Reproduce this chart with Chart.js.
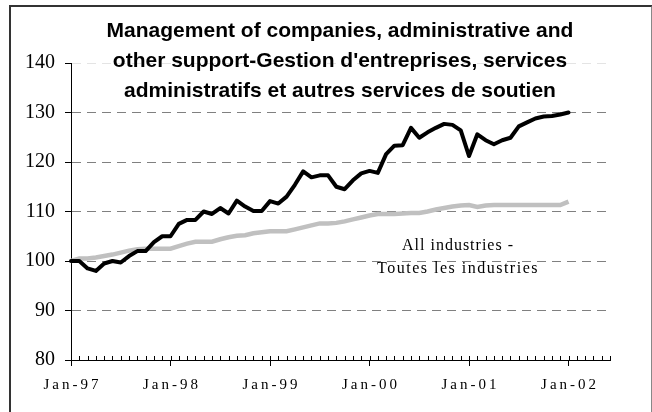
<!DOCTYPE html>
<html>
<head>
<meta charset="utf-8">
<script src="https://cdn.jsdelivr.net/npm/chart.js@4.4.1/dist/chart.umd.min.js"></script>
<style>
  body { margin: 0; background: #fff; }
  #wrap { position: relative; width: 652px; height: 412px; overflow: hidden; }
  #frame { position: absolute; left: 9px; top: 5px; width: 640px; height: 420px;
           border-top: 2px solid #333; border-left: 2px solid #333; border-right: 2px solid #888; }
  canvas { position: absolute; left: 0; top: 0; }
  #title { position: absolute; left: 40px; width: 600px; top: 15px; text-align: center;
           font-family: "Liberation Sans", Arial, sans-serif; font-weight: bold; font-size: 21px;
           line-height: 30px; color: #000; white-space: nowrap; }
  #note { position: absolute; left: 358px; width: 200px; top: 233px; text-align: center;
          font-family: "Liberation Serif", "Times New Roman", serif; font-size: 16px;
          line-height: 23px; letter-spacing: 1px; color: #000; white-space: nowrap; }
  #note span { letter-spacing: 1.5px; }
</style>
</head>
<body>
<div id="wrap">
  <div id="frame"></div>
  <canvas id="chart" width="652" height="412"></canvas>
  <div id="title">Management of companies, administrative and<br>other support-Gestion d'entreprises, services<br>administratifs et autres services de soutien</div>
  <div id="note">All industries -<br><span>Toutes les industries</span></div>
</div>
<script>
var monthNames = ["Jan", "Feb", "Mar", "Apr", "May", "Jun", "Jul", "Aug", "Sep", "Oct", "Nov", "Dec"];
var years = ["97", "98", "99", "00", "01", "02"];
var monthCount = 66; // axis runs Jan-97 .. Jun-02

// Management of companies, administrative and other support (Jan-97 = 100)
var management = [
    100, 100, 98.5, 98, 99.5, 100, 99.7, 101, 102, 102, 103.8, 105,
    105, 107.5, 108.3, 108.3, 110, 109.5, 110.7, 109.6, 112.2, 111, 110.1, 110.1,
    112.1, 111.6, 113, 115.4, 118.1, 116.9, 117.3, 117.3, 115, 114.5, 116.3, 117.7,
    118.2, 117.8, 121.6, 123.3, 123.4, 126.9, 124.9, 126, 126.9, 127.7, 127.5, 126.4,
    121.2, 125.6, 124.4, 123.6, 124.4, 124.9, 127.2, 128, 128.8, 129.2, 129.3, 129.6,
    130
];

// All industries
var allIndustries = [
    100, 100.5, 100.5, 100.7, 101, 101.3, 101.7, 102.1, 102.4, 102.5, 102.5, 102.5,
    102.5, 103, 103.5, 103.9, 103.9, 103.9, 104.4, 104.8, 105.1, 105.2, 105.6, 105.8,
    106, 106, 106, 106.4, 106.8, 107.2, 107.6, 107.6, 107.7, 108, 108.4, 108.8,
    109.2, 109.5, 109.5, 109.5, 109.6, 109.7, 109.7, 110, 110.4, 110.7, 111, 111.2,
    111.3, 110.9, 111.2, 111.3, 111.3, 111.3, 111.3, 111.3, 111.3, 111.3, 111.3, 111.3,
    112
];

var yTicks = [80, 90, 100, 110, 120, 130, 140];

var labels = [];
for (var i = 0; i < monthCount; i++) {
    labels.push(monthNames[i % 12] + "-" + years[Math.floor(i / 12)]);
}

// small monthly tick marks pointing up from the x axis
var minorTicks = {
    id: "minorTicks",
    afterDraw: function (chart) {
        var ctx = chart.ctx;
        var x = chart.scales.x;
        var y0 = chart.chartArea.bottom;
        ctx.save();
        ctx.strokeStyle = "#000";
        ctx.lineWidth = 1;
        ctx.beginPath();
        for (var i = 0; i < labels.length; i++) {
            var px = Math.round(x.getPixelForValue(i)) + 0.5;
            ctx.moveTo(px, y0);
            ctx.lineTo(px, y0 - 4);
        }
        ctx.stroke();
        ctx.restore();
    }
};

var ctx = document.getElementById("chart").getContext("2d");
var chart = new Chart(ctx, {
    type: "line",
    data: {
        labels: labels,
        datasets: [
            {
                label: "All industries - Toutes les industries",
                data: allIndustries,
                borderColor: "#c0c0c0",
                borderWidth: 4.5,
                pointRadius: 0,
                tension: 0,
                order: 2
            },
            {
                label: "Management of companies",
                data: management,
                borderColor: "#000",
                borderWidth: 4,
                pointRadius: 0,
                tension: 0,
                borderJoinStyle: "round",
                borderCapStyle: "round",
                order: 1
            }
        ]
    },
    options: {
        responsive: false,
        animation: false,
        devicePixelRatio: 1,
        layout: { padding: { top: 63, right: 42, left: 0, bottom: 0 } },
        plugins: {
            legend: { display: false },
            title: { display: false },
            tooltip: { enabled: false }
        },
        scales: {
            x: {
                offset: false,
                grid: {
                    display: true,
                    drawOnChartArea: false,
                    drawTicks: true,
                    tickLength: 6,
                    tickColor: function (c) { return c.index % 12 === 0 ? "#000" : "rgba(0,0,0,0)"; }
                },
                border: { display: true, color: "#000", width: 1 },
                ticks: {
                    autoSkip: false,
                    maxRotation: 0,
                    padding: 10,
                    color: "#000",
                    font: { family: "'Liberation Serif', 'Times New Roman', serif", size: 15 },
                    callback: function (val, idx) {
                        if (idx % 12 !== 0) return "";
                        return labels[idx].split("").join("\u2009");
                    }
                },
                afterFit: function (s) { s.height = 52; }
            },
            y: {
                min: 80,
                max: 140,
                afterBuildTicks: function (s) {
                    s.ticks = yTicks.map(function (v) { return { value: v }; });
                },
                grid: {
                    color: function (c) {
                        if (c.tick.value === 80) return "rgba(0,0,0,0)";
                        if (c.tick.value === 140) return "#e4e4e4";
                        return "#808080";
                    },
                    lineWidth: 1,
                    tickLength: 6,
                    tickColor: "#000"
                },
                border: { display: true, color: "#000", width: 1, dash: [9, 6] },
                ticks: {
                    padding: 10,
                    color: "#000",
                    font: { family: "'Liberation Serif', 'Times New Roman', serif", size: 20 }
                },
                afterFit: function (s) { s.width = 71; }
            }
        }
    },
    plugins: [minorTicks]
});
</script>
</body>
</html>
